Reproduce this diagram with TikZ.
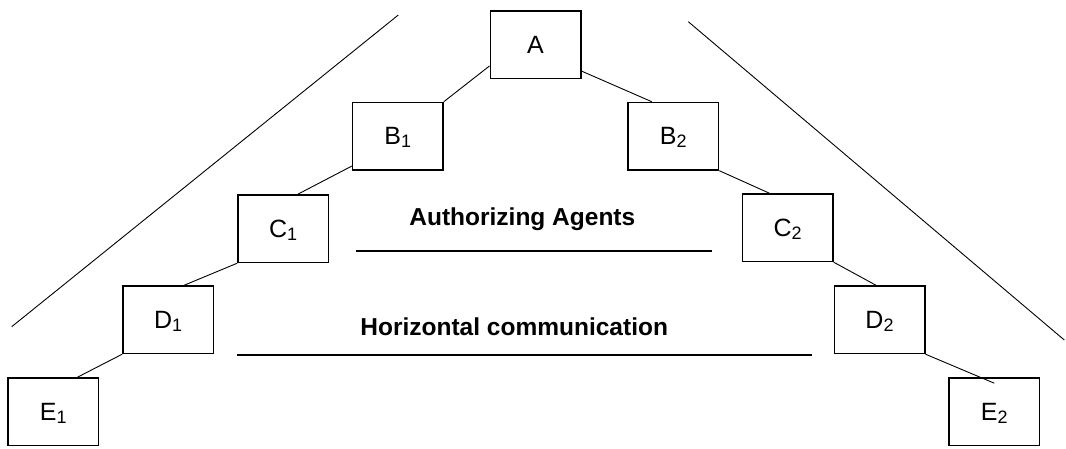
\documentclass[tikz,border=0pt]{standalone}
\usepackage{fontspec}
\setmainfont{Liberation Sans}
\usetikzlibrary{calc}
% letter with a lowered index (index depth ignored for centring)
\newcommand{\lvl}[2]{#1\smash{\raisebox{-3pt}{\fontsize{18}{18}\selectfont #2}}}
\begin{document}
\begin{tikzpicture}[x=1pt,y=-1pt,
  agent/.style={draw, line width=1.5pt, minimum width=90.5pt, minimum height=67.5pt,
                inner sep=0pt, font=\fontsize{25}{25}\selectfont},
  link/.style={line width=0.9pt},
  bound/.style={line width=0.9pt},
  rulebar/.style={line width=1.6pt},
  heading/.style={font=\bfseries\fontsize{24.5}{24.5}\selectfont, anchor=base, inner sep=0pt}]
\useasboundingbox (0,0) rectangle (1066,448);

% hierarchy boxes
\node[agent] (A)  at (535.5,44.5)  {A};
\node[agent] (B1) at (397.8,136.2) {\lvl{B}{1}};
\node[agent] (B2) at (673.3,136.2) {\lvl{B}{2}};
\node[agent] (C1) at (283.2,228.7) {\lvl{C}{1}};
\node[agent] (C2) at (787.7,227.7) {\lvl{C}{2}};
\node[agent] (D1) at (168.2,319.7) {\lvl{D}{1}};
\node[agent] (D2) at (879.5,319.7) {\lvl{D}{2}};
\node[agent] (E1) at (53.3,411.7)  {\lvl{E}{1}};
\node[agent] (E2) at (994.3,411.7) {\lvl{E}{2}};

% chain of command
\draw[link] (A.205) -- (B1.north east);
\draw[link] (B1.213) -- (C1.67);
\draw[link] (C1.south west) -- (D1.65);
\draw[link] (D1.south west) -- (E1.55);
\draw[link] (A.-30) -- (B2.122);
\draw[link] (B2.south east) -- (C2.118);
\draw[link] (C2.south east) -- (D2.96);
\draw[link] (D2.south east) -- ($(E2.north)+(0,6)$);

% outer boundary lines
\coordinate (Ltop) at (398.3,15);
\coordinate (Lbot) at (11.7,326.7);
\coordinate (Rtop) at (688.3,21.7);
\coordinate (Rbot) at (1064.3,340);
\draw[bound] (Ltop) -- (Lbot);
\draw[bound] (Rtop) -- (Rbot);

% headings with their rules
\node[heading] (auth) at (522.3,225) {Authorizing Agents};
\coordinate (authL) at (355.5,250.7);
\coordinate (authR) at (712.2,250.7);
\draw[rulebar] (authL) -- (authR);

\node[heading] (horiz) at (514.2,335) {Horizontal communication};
\coordinate (horizL) at (236.9,355);
\coordinate (horizR) at (811.7,355);
\draw[rulebar] (horizL) -- (horizR);
\end{tikzpicture}
\end{document}
